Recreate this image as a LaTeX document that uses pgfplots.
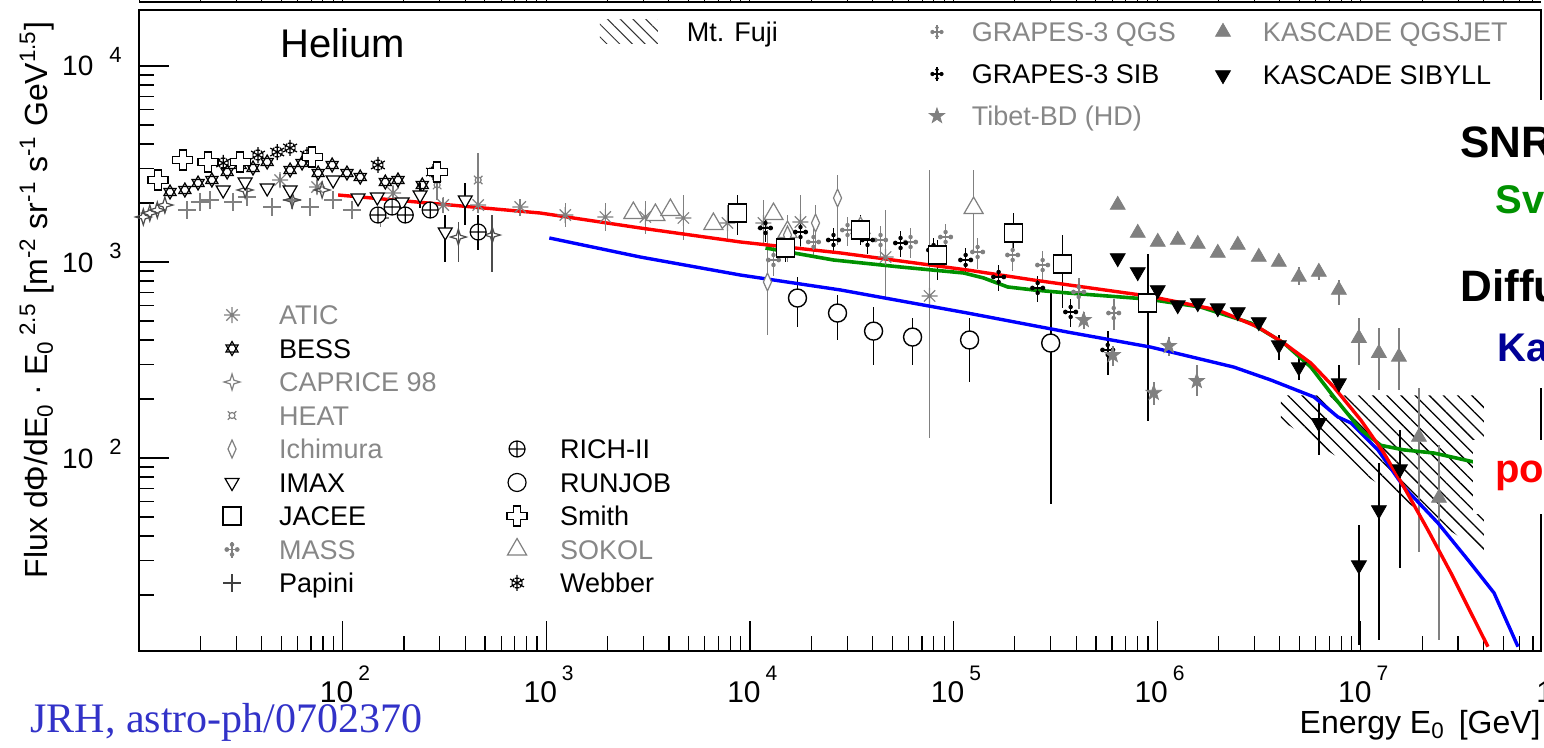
\documentclass[border=0pt]{standalone}
\usepackage{fontspec}
\setmainfont{Liberation Sans}
\newfontfamily\serifjrh{Liberation Serif}
\usepackage{pgfplots}
\pgfplotsset{compat=1.18}
\usetikzlibrary{patterns.meta}

\definecolor{dgray}{RGB}{128,128,128}
\definecolor{tgray}{RGB}{135,135,135}
\definecolor{cgreen}{RGB}{0,145,0}
\definecolor{jrhblue}{RGB}{50,50,200}
\definecolor{kablue}{RGB}{0,0,150}

% ---------- custom marks ----------
\pgfdeclareplotmark{david}{%
 \pgfpathmoveto{\pgfpointpolar{90}{\pgfplotmarksize}}%
 \pgfpathlineto{\pgfpointpolar{210}{\pgfplotmarksize}}%
 \pgfpathlineto{\pgfpointpolar{330}{\pgfplotmarksize}}%
 \pgfpathclose
 \pgfpathmoveto{\pgfpointpolar{270}{\pgfplotmarksize}}%
 \pgfpathlineto{\pgfpointpolar{30}{\pgfplotmarksize}}%
 \pgfpathlineto{\pgfpointpolar{150}{\pgfplotmarksize}}%
 \pgfpathclose
 \pgfusepathqstroke}
\pgfdeclareplotmark{ocross}{%
 \pgfpathmoveto{\pgfqpoint{0.35\pgfplotmarksize}{\pgfplotmarksize}}%
 \pgfpathlineto{\pgfqpoint{0.35\pgfplotmarksize}{0.35\pgfplotmarksize}}%
 \pgfpathlineto{\pgfqpoint{\pgfplotmarksize}{0.35\pgfplotmarksize}}%
 \pgfpathlineto{\pgfqpoint{\pgfplotmarksize}{-0.35\pgfplotmarksize}}%
 \pgfpathlineto{\pgfqpoint{0.35\pgfplotmarksize}{-0.35\pgfplotmarksize}}%
 \pgfpathlineto{\pgfqpoint{0.35\pgfplotmarksize}{-\pgfplotmarksize}}%
 \pgfpathlineto{\pgfqpoint{-0.35\pgfplotmarksize}{-\pgfplotmarksize}}%
 \pgfpathlineto{\pgfqpoint{-0.35\pgfplotmarksize}{-0.35\pgfplotmarksize}}%
 \pgfpathlineto{\pgfqpoint{-\pgfplotmarksize}{-0.35\pgfplotmarksize}}%
 \pgfpathlineto{\pgfqpoint{-\pgfplotmarksize}{0.35\pgfplotmarksize}}%
 \pgfpathlineto{\pgfqpoint{-0.35\pgfplotmarksize}{0.35\pgfplotmarksize}}%
 \pgfpathlineto{\pgfqpoint{-0.35\pgfplotmarksize}{\pgfplotmarksize}}%
 \pgfpathclose
 \pgfusepathqfillstroke}
\def\sbar#1#2#3{%
 \pgfpathmoveto{\pgfpointadd{\pgfpointpolar{#1}{0.6\pgfplotmarksize}}{\pgfpointpolar{#2}{0.28\pgfplotmarksize}}}%
 \pgfpathlineto{\pgfpointadd{\pgfpointpolar{#1}{0.6\pgfplotmarksize}}{\pgfpointpolar{#3}{0.28\pgfplotmarksize}}}}
\pgfdeclareplotmark{snow}{%
 \pgfpathmoveto{\pgfpointpolar{90}{\pgfplotmarksize}}\pgfpathlineto{\pgfpointpolar{270}{\pgfplotmarksize}}%
 \pgfpathmoveto{\pgfpointpolar{30}{\pgfplotmarksize}}\pgfpathlineto{\pgfpointpolar{210}{\pgfplotmarksize}}%
 \pgfpathmoveto{\pgfpointpolar{150}{\pgfplotmarksize}}\pgfpathlineto{\pgfpointpolar{330}{\pgfplotmarksize}}%
 \sbar{90}{180}{0}\sbar{150}{240}{60}\sbar{210}{300}{120}%
 \sbar{270}{0}{180}\sbar{330}{60}{240}\sbar{30}{120}{-60}%
 \pgfusepathqstroke}
\pgfdeclareplotmark{ast8}{%
 \pgfpathmoveto{\pgfqpoint{-\pgfplotmarksize}{0pt}}\pgfpathlineto{\pgfqpoint{\pgfplotmarksize}{0pt}}%
 \pgfpathmoveto{\pgfqpoint{0pt}{-\pgfplotmarksize}}\pgfpathlineto{\pgfqpoint{0pt}{\pgfplotmarksize}}%
 \pgfpathmoveto{\pgfpointpolar{45}{\pgfplotmarksize}}\pgfpathlineto{\pgfpointpolar{225}{\pgfplotmarksize}}%
 \pgfpathmoveto{\pgfpointpolar{135}{\pgfplotmarksize}}\pgfpathlineto{\pgfpointpolar{315}{\pgfplotmarksize}}%
 \pgfusepathqstroke}
\pgfdeclareplotmark{fourstar}{%
 \pgfpathmoveto{\pgfpointpolar{90}{\pgfplotmarksize}}%
 \pgfpathlineto{\pgfpointpolar{45}{0.33\pgfplotmarksize}}%
 \pgfpathlineto{\pgfpointpolar{0}{\pgfplotmarksize}}%
 \pgfpathlineto{\pgfpointpolar{-45}{0.33\pgfplotmarksize}}%
 \pgfpathlineto{\pgfpointpolar{-90}{\pgfplotmarksize}}%
 \pgfpathlineto{\pgfpointpolar{-135}{0.33\pgfplotmarksize}}%
 \pgfpathlineto{\pgfpointpolar{180}{\pgfplotmarksize}}%
 \pgfpathlineto{\pgfpointpolar{135}{0.33\pgfplotmarksize}}%
 \pgfpathclose
 \pgfusepathqstroke}
\pgfdeclareplotmark{heat}{%
 \pgfpathcircle{\pgfpointorigin}{0.5\pgfplotmarksize}%
 \pgfpathmoveto{\pgfpointpolar{45}{0.5\pgfplotmarksize}}\pgfpathlineto{\pgfpointpolar{45}{\pgfplotmarksize}}%
 \pgfpathmoveto{\pgfpointpolar{135}{0.5\pgfplotmarksize}}\pgfpathlineto{\pgfpointpolar{135}{\pgfplotmarksize}}%
 \pgfpathmoveto{\pgfpointpolar{225}{0.5\pgfplotmarksize}}\pgfpathlineto{\pgfpointpolar{225}{\pgfplotmarksize}}%
 \pgfpathmoveto{\pgfpointpolar{315}{0.5\pgfplotmarksize}}\pgfpathlineto{\pgfpointpolar{315}{\pgfplotmarksize}}%
 \pgfusepathqstroke}
\pgfdeclareplotmark{grapes}{%
 \pgfpathmoveto{\pgfqpoint{-0.8\pgfplotmarksize}{0pt}}\pgfpathlineto{\pgfqpoint{0.8\pgfplotmarksize}{0pt}}%
 \pgfpathmoveto{\pgfqpoint{0pt}{-\pgfplotmarksize}}\pgfpathlineto{\pgfqpoint{0pt}{\pgfplotmarksize}}%
 \pgfusepathqstroke
 \pgfpathcircle{\pgfqpoint{0.65\pgfplotmarksize}{0pt}}{0.3\pgfplotmarksize}%
 \pgfpathcircle{\pgfqpoint{-0.65\pgfplotmarksize}{0pt}}{0.3\pgfplotmarksize}%
 \pgfpathcircle{\pgfqpoint{0pt}{0.62\pgfplotmarksize}}{0.28\pgfplotmarksize}%
 \pgfpathcircle{\pgfqpoint{0pt}{-0.62\pgfplotmarksize}}{0.28\pgfplotmarksize}%
 \pgfusepathqfill}
\pgfdeclareplotmark{fstar}{%
 \pgfpathmoveto{\pgfpointpolar{90}{\pgfplotmarksize}}%
 \pgfpathlineto{\pgfpointpolar{126}{0.4\pgfplotmarksize}}%
 \pgfpathlineto{\pgfpointpolar{162}{\pgfplotmarksize}}%
 \pgfpathlineto{\pgfpointpolar{198}{0.4\pgfplotmarksize}}%
 \pgfpathlineto{\pgfpointpolar{234}{\pgfplotmarksize}}%
 \pgfpathlineto{\pgfpointpolar{270}{0.4\pgfplotmarksize}}%
 \pgfpathlineto{\pgfpointpolar{306}{\pgfplotmarksize}}%
 \pgfpathlineto{\pgfpointpolar{342}{0.4\pgfplotmarksize}}%
 \pgfpathlineto{\pgfpointpolar{18}{\pgfplotmarksize}}%
 \pgfpathlineto{\pgfpointpolar{54}{0.4\pgfplotmarksize}}%
 \pgfpathclose
 \pgfusepathqfillstroke}

\newcommand{\xl}[1]{\fontsize{15}{15}\selectfont 10\rlap{\hspace{2.5pt}\raisebox{11pt}{\fontsize{10.5}{10.5}\selectfont #1}}}
\newcommand{\yl}[1]{\fontsize{14}{14}\selectfont 10\hspace{8pt}\raisebox{7pt}{\fontsize{11}{11}\selectfont #1}}

\pgfplotsset{
 frame/.style={at={(69.5pt,-325.5pt)}, anchor=south west, scale only axis,
   width=701pt, height=320.5pt},
 eb/.style={error bars/y dir=both, error bars/y explicit, error bars/error mark=none,
   error bars/error bar style={line width=0.8pt, solid}},
 legaxis/.style={frame, xmin=0, xmax=1, ymin=0, ymax=1, hide axis,
   legend cell align=left,
   legend image code/.code={\path[draw=none, fill=none] (-6pt,-7pt) rectangle (6pt,7pt); \draw[##1] plot coordinates {(0pt,0pt)};},
   legend style={draw=none, fill=none, inner sep=0pt, outer sep=0pt, anchor=north west,
     font=\fontsize{13.5}{14}\selectfont,
     nodes={inner sep=0pt, text height=11.8pt, text depth=2.2pt},
     column sep=17.5pt, row sep=2.75pt}},
}

\begin{document}
\begin{tikzpicture}
\begin{scope}
\clip (0pt,0pt) rectangle (772pt,-374pt);

% thin axis line at the very top (bottom of the plot above)
\begin{axis}[at={(69.5pt,-1pt)}, anchor=south west, scale only axis, width=701pt, height=20pt,
  xmode=log, xmin=10, xmax=7.665e7, ymin=0, ymax=1, hide y axis, axis x line*=bottom,
  axis line style={-, line width=0.6pt}, tick align=inside, major tick length=15pt, minor tick length=7.5pt,
  every tick/.style={black, line width=0.5pt},
  xtick={10,100,1000,10000,100000,1000000,10000000}, xticklabels={},
  minor xtick={20,30,40,50,60,70,80,90,200,300,400,500,600,700,800,900,2000,3000,4000,5000,6000,7000,8000,9000,2e4,3e4,4e4,5e4,6e4,7e4,8e4,9e4,2e5,3e5,4e5,5e5,6e5,7e5,8e5,9e5,2e6,3e6,4e6,5e6,6e6,7e6,8e6,9e6,2e7,3e7,4e7,5e7,6e7,7e7}]
\end{axis}

\begin{axis}[frame,
  xmode=log, ymode=log,
  xmin=10, xmax=7.665e7, ymin=10.36, ymax=19310,
  axis line style={line width=1.1pt},
  tick pos=left, tick align=inside,
  major tick length=15pt, minor tick length=7.5pt,
  every tick/.style={black, line width=0.6pt},
  xtick={10,100,1000,10000,100000,1000000,10000000},
  xticklabels={,\xl{2},\xl{3},\xl{4},\xl{5},\xl{6},\xl{7}},
  minor xtick={20,30,40,50,60,70,80,90,200,300,400,500,600,700,800,900,2000,3000,4000,5000,6000,7000,8000,9000,2e4,3e4,4e4,5e4,6e4,7e4,8e4,9e4,2e5,3e5,4e5,5e5,6e5,7e5,8e5,9e5,2e6,3e6,4e6,5e6,6e6,7e6,8e6,9e6,2e7,3e7,4e7,5e7,6e7,7e7},
  ytick={100,1000,10000}, yticklabels={\yl{2},\yl{3},\yl{4}},
  minor ytick={20,30,40,50,60,70,80,90,200,300,400,500,600,700,800,900,2000,3000,4000,5000,6000,7000,8000,9000},
  xticklabel style={anchor=base, inner sep=0pt, yshift=-26pt, xshift=-3pt},
  yticklabel style={anchor=base east, inner sep=0pt, xshift=-8.5pt, yshift=-5pt},
  xlabel={Energy E\textsubscript{0}\hspace{7pt}[GeV]},
  xlabel style={at={(axis description cs:1,-0.128)}, anchor=base east, inner sep=0pt, font=\fontsize{16}{16}\selectfont},
  ylabel={Flux dΦ/dE\textsubscript{0} · E\textsubscript{0}\,\textsuperscript{2.5} [m\textsuperscript{-2} sr\textsuperscript{-1} s\textsuperscript{-1} GeV\textsuperscript{1.5}]},
  ylabel style={at={(axis description cs:-0.0728,0.5476)}, anchor=center, inner sep=0pt, font=\fontsize{16}{16}\selectfont},
]
% Mt. Fuji band
\addplot[draw=none, pattern={Lines[angle=-45,distance=5pt,line width=0.65pt]}, pattern color=black]
 coordinates {(4.05e6,209) (4.02e7,209) (4.02e7,32.8) (4.05e6,156)} -- cycle;

% ATIC
\addplot[only marks, mark=ast8, dgray, mark size=4pt, line width=0.6pt, eb] coordinates {
 (49.3,2620) +- (0,200) (74.9,2413) +- (0,200) (177,2249) +- (0,180) (312,1953) +- (0,170)
 (463,1953) +- (0,180) (745,1908) +- (0,190)
 (1240,1737) += (0,260) -= (0,230) (1950,1697) += (0,300) -= (0,260)
 (3065,1697) += (0,340) -= (0,300) (4712,1677) += (0,520) -= (0,382)
 (7752,1581) += (0,372) -= (0,316) (11650,1581) += (0,491) -= (0,360)
 (17710,1600) += (0,597) -= (0,449) (46340,1060) += (0,782) -= (0,420)
 (76230,671) += (0,2276) -= (0,545)};
% Papini
\addplot[only marks, mark=+, dgray, mark size=4.5pt, line width=0.7pt] coordinates {
 (17.2,1842) (19.9,2024) (22.3,2072) (29.0,2024) (33.9,2146) (45.0,1908) (56.5,2072)
 (69.2,1908) (89.8,2072) (111,1842) (153,1677)};
% CAPRICE 98
\addplot[only marks, mark=fourstar, black!70, mark size=4pt, line width=0.6pt, eb] coordinates {
 (10.5,1697) (11.3,1778) (12.3,1842) (13.4,1953) (33.2,2330) (56.5,2072) (79.3,2330)
 (370,1341) += (0,259) -= (0,341) (543,1373) += (0,364) -= (0,484)};
% HEAT
\addplot[only marks, mark=heat, dgray, mark size=3pt, line width=0.6pt, eb] coordinates {
 (291,2471) += (0,655) -= (0,399) (463,2620) += (0,977) -= (0,712)};
% BESS
\addplot[only marks, mark=david, black, mark size=3.5pt, line width=0.6pt] coordinates {
 (14.2,2276) (16.8,2330) (19.5,2529) (22.8,2620) (27.1,2878) (31.4,3126) (36.3,3017)
 (42.6,3237) (55.2,2947) (63.2,3200) (75.8,2844) (88.8,3126) (105,2844) (122,2714)
 (162,2559) (187,2620) (246,2471)};
% Webber
\addplot[only marks, mark=snow, black, mark size=4pt, line width=0.6pt] coordinates {
 (25.9,3200) (38.4,3514) (47.7,3640) (55.2,3817) (66.9,3514) (149,3126) (278,2878)};
% Smith
\addplot[only marks, mark=ocross, black, mark size=5pt, line width=0.6pt, mark options={fill=white}] coordinates {
 (12.4,2620) (16.4,3314) (21.8,3237) (31.4,3237) (70.8,3434) (291,2878)};
% IMAX
\addplot[only marks, mark=triangle*, black, mark size=4pt, line width=0.6pt, mark options={fill=white, rotate=180}, eb] coordinates {
 (25.9,2330) (33.2,2559) (42.6,2385) (55.2,2330) (89.8,2620) (119,2121) (148,2146) (196,2024)
 (240,2197) += (0,332) -= (0,311) (319,1422) += (0,315) -= (0,422) (400,2072) += (0,457) -= (0,527)};
% RICH-II
\addplot[only marks, mark=oplus*, black, mark size=4pt, line width=0.6pt, mark options={fill=white}, eb] coordinates {
 (149,1737) +- (0,150) (175,1908) +- (0,160) (203,1737) +- (0,150) (269,1842) +- (0,160)
 (463,1422) += (0,315) -= (0,271)};
% SOKOL
\addplot[only marks, mark=triangle*, dgray, mark size=5.5pt, line width=0.6pt, mark options={fill=white}, eb] coordinates {
 (2676,1778) (3433,1737) (4068,1842) (6616,1563) (13050,1757) (15290,1422) +- (0,150) (34910,1491)
 (125400,1886) += (0,1061) -= (0,774)};
% Ichimura
\addplot[only marks, mark=diamond*, dgray, mark size=4.5pt, line width=0.6pt, mark options={fill=white, xscale=0.6}, eb] coordinates {
 (12190,791) += (0,665) -= (0,367) (15290,1373) += (0,364) -= (0,373)
 (20990,1581) += (0,372) -= (0,430) (26920,2121) += (0,658) -= (0,900)};
% GRAPES-3 QGS
\addplot[only marks, mark=grapes, dgray, mark size=4pt, line width=0.6pt, eb] coordinates {
 (13050,1024) +- (0,180) (20510,1265) +- (0,220) (30140,1456) +- (0,250) (43780,1295) +- (0,230)
 (61470,1265) +- (0,220) (91330,1341) +- (0,230) (131200,1125) +- (0,200) (195000,1086) +- (0,190)
 (273700,965) +- (0,170) (411500,703) +- (0,130) (611300,549) +- (0,100)};
% GRAPES-3 SIB
\addplot[only marks, mark=grapes, black, mark size=4pt, line width=0.6pt, eb] coordinates {
 (11920,1491) +- (0,220) (17710,1422) +- (0,210) (25720,1295) +- (0,190) (37790,1295) +- (0,190)
 (54900,1250) +- (0,185) (79760,1151) +- (0,170) (114600,1024) +- (0,150) (166400,839) +- (0,125)
 (258700,737) +- (0,115) (375700,556) +- (0,90) (571300,356) += (0,88) -= (0,91)};
% JACEE
\addplot[only marks, mark=square*, black, mark size=4.5pt, line width=0.7pt, mark options={fill=white}, eb] coordinates {
 (8681,1778) += (0,419) -= (0,405) (14940,1179) += (0,194) -= (0,179)
 (34910,1456) += (0,281) -= (0,235) (83430,1086) += (0,209) -= (0,277)
 (197100,1406) += (0,372) -= (0,255) (343300,977) += (0,396) -= (0,395)
 (898200,618) += (0,483) -= (0,464)};
% RUNJOB
\addplot[only marks, mark=*, black, mark size=4.5pt, line width=0.7pt, mark options={fill=white}, eb] coordinates {
 (17120,655) += (0,184) -= (0,189) (26920,549) += (0,130) -= (0,149)
 (40460,444) += (0,145) -= (0,146) (62880,414) += (0,104) -= (0,116)
 (119800,400) += (0,118) -= (0,156) (299800,386) += (0,309) -= (0,328)};
% Tibet-BD (HD)
\addplot[only marks, mark=fstar, dgray, mark size=4pt, line width=0.4pt, eb] coordinates {
 (435400,506) +- (0,50) (604400,335) +- (0,40) (961200,215) += (0,30) -= (0,28)
 (1139000,373) +- (0,40) (1564000,247) += (0,50) -= (0,40)};
% KASCADE QGSJET
\addplot[only marks, mark=triangle*, dgray, mark size=4.3pt, line width=0.4pt, eb] coordinates {
 (639700,1953) (802300,1406) (1006000,1265) (1261000,1295) (1581000,1235) (1983000,1112)
 (2486000,1221) (3153000,1060) (3955000,1000)
 (4958000,839) += (0,100) -= (0,80) (6217000,889) += (0,90) -= (0,80)
 (7797000,720) += (0,89) -= (0,117) (9777000,409) += (0,109) -= (0,111)
 (12260000,343) += (0,117) -= (0,121) (15370000,328) += (0,132) -= (0,106)
 (19280000,128) += (0,100) -= (0,95) (24170000,62.5) += (0,53.5) -= (0,50.7)};
% KASCADE SIBYLL
\addplot[only marks, mark=triangle*, black, mark size=4.3pt, line width=0.4pt, mark options={rotate=180}, eb] coordinates {
 (639700,1048) (802300,889) (1006000,720) (1261000,603) (1581000,618) (1983000,582)
 (2486000,556) (3153000,494)
 (3955000,377) += (0,47) -= (0,61) (4958000,291) += (0,44) -= (0,41)
 (6217000,151) += (0,47) -= (0,47) (7797000,241) += (0,57) -= (0,26)
 (9777000,28.4) += (0,17.1) -= (0,17.3) (12260000,54.3) += (0,40) -= (0,42.5)
 (15550000,87.8) += (0,51) -= (0,60.3)};

% model curves
\addplot[blue, line width=1.7pt, mark=none] coordinates {
 (1035,1326) (2897,1060) (8982,858) (27850,720) (117200,549) (363300,439) (929200,368)
 (2376000,291) (3612000,250) (5875000,205) (7709000,162) (8932000,151) (12120000,110)
 (16270000,71.1) (23900000,46.6) (33560000,30.2) (45050000,20.5) (59080000,10.9)};
\addplot[cgreen, line width=1.8pt, mark=none] coordinates {
 (11920,1179) (25720,1024) (54900,943) (112000,879) (140400,829) (184200,746) (247200,720)
 (363300,695) (898200,647) (1636000,589) (2881000,488) (4184000,386) (5681000,291)
 (7368000,205) (10000000,139) (12540000,116) (16270000,110) (22850000,106) (35920000,95.4)
 (48750000,93)};
\addplot[red, line width=1.7pt, mark=none] coordinates {
 (95.0,2197) (934,1778) (2897,1491) (8982,1265) (27850,1112) (117200,910) (247200,809)
 (898200,671) (1983000,569) (3118000,466) (4184000,386) (5681000,305) (7368000,230)
 (10000000,156) (12970000,106) (16270000,71.1) (21340000,42.9) (27690000,25.9)
 (34720000,16.2) (42070000,10.9)};

\node[anchor=west, inner sep=0pt, font=\fontsize{20}{20}\selectfont] at (axis description cs:0.1006,0.9485) {Helium};
\end{axis}

% ---------- legends ----------
\begin{axis}[legaxis, legend style={at={(axis description cs:0.0578,0.5460)}}]
\addlegendimage{mark=ast8, dgray, mark size=4pt, line width=0.6pt}\addlegendentry[text=tgray]{ATIC}
\addlegendimage{mark=david, black, mark size=3.5pt, line width=0.6pt}\addlegendentry{BESS}
\addlegendimage{mark=fourstar, dgray, mark size=4pt, line width=0.6pt}\addlegendentry[text=tgray]{CAPRICE 98}
\addlegendimage{mark=heat, dgray, mark size=3pt, line width=0.6pt}\addlegendentry[text=tgray]{HEAT}
\addlegendimage{mark=diamond*, dgray, mark size=4.5pt, line width=0.6pt, mark options={fill=white, xscale=0.6}}\addlegendentry[text=tgray]{Ichimura}
\addlegendimage{mark=triangle*, black, mark size=4pt, line width=0.6pt, mark options={fill=white, rotate=180}}\addlegendentry{IMAX}
\addlegendimage{mark=square*, black, mark size=4.5pt, line width=0.6pt, mark options={fill=white}}\addlegendentry{JACEE}
\addlegendimage{mark=grapes, dgray, mark size=4pt, line width=0.6pt}\addlegendentry[text=tgray]{MASS}
\addlegendimage{mark=+, black!75, mark size=4.5pt, line width=0.6pt}\addlegendentry{Papini}
\end{axis}
\begin{axis}[legaxis, legend style={at={(axis description cs:0.2611,0.3370)}, column sep=15.5pt}]
\addlegendimage{mark=oplus*, black, mark size=4pt, line width=0.6pt, mark options={fill=white}}\addlegendentry{RICH-II}
\addlegendimage{mark=*, black, mark size=4.5pt, line width=0.6pt, mark options={fill=white}}\addlegendentry{RUNJOB}
\addlegendimage{mark=ocross, black, mark size=5pt, line width=0.6pt, mark options={fill=white}}\addlegendentry{Smith}
\addlegendimage{mark=triangle*, dgray, mark size=5.5pt, line width=0.6pt, mark options={fill=white}}\addlegendentry[text=tgray]{SOKOL}
\addlegendimage{mark=snow, black, mark size=4pt, line width=0.6pt}\addlegendentry{Webber}
\end{axis}
\begin{axis}[legaxis,
  legend image code/.code={\path[#1, draw=none] (0pt,-6pt) rectangle (29pt,6pt);},
  legend style={at={(axis description cs:0.3288,0.9875)}, column sep=14.5pt}]
\addlegendimage{pattern={Lines[angle=-45,distance=4.5pt,line width=0.5pt]}, pattern color=black!80}\addlegendentry{Mt. Fuji}
\end{axis}
\begin{axis}[legaxis, legend style={at={(axis description cs:0.5606,0.9875)}, column sep=11.5pt, row sep=7pt}]
\addlegendimage{mark=grapes, dgray, mark size=3.5pt, line width=0.6pt}\addlegendentry[text=tgray]{GRAPES-3 QGS}
\addlegendimage{mark=grapes, black, mark size=3.5pt, line width=0.6pt}\addlegendentry{GRAPES-3 SIB}
\addlegendimage{mark=fstar, dgray, mark size=4pt, line width=0.4pt}\addlegendentry[text=tgray]{Tibet-BD (HD)}
\end{axis}
\begin{axis}[legaxis, legend style={at={(axis description cs:0.7646,0.9875)}, column sep=14pt, row sep=7.5pt}]
\addlegendimage{mark=triangle*, dgray, mark size=4.3pt, line width=0.4pt}\addlegendentry[text=tgray]{KASCADE QGSJET}
\addlegendimage{mark=triangle*, black, mark size=4.3pt, line width=0.4pt, mark options={rotate=180}}\addlegendentry{KASCADE SIBYLL}
\end{axis}

% ---------- slide overlays ----------
\begin{scope}[x=0.5pt, y=-0.5pt]
\fill[white] (1455,100) rectangle (1560,388);
\fill[white] (1473,440) rectangle (1560,514);
\node[anchor=west, inner sep=0pt, font=\bfseries\fontsize{22}{22}\selectfont] at (1460,142) {SNR};
\node[anchor=west, inner sep=0pt, text=cgreen, font=\bfseries\fontsize{20}{20}\selectfont] at (1495,200) {Sv};
\node[anchor=west, inner sep=0pt, font=\bfseries\fontsize{22}{22}\selectfont] at (1460,286) {Diffu};
\node[anchor=west, inner sep=0pt, text=kablue, font=\bfseries\fontsize{20}{20}\selectfont] at (1497,348) {Ka};
\node[anchor=west, inner sep=0pt, text=red, font=\bfseries\fontsize{20}{20}\selectfont] at (1495,476) {po};
\node[anchor=base, inner sep=0pt] at (1553,703) {\fontsize{15}{15}\selectfont 10};
\node[anchor=base west, inner sep=0pt, text=jrhblue, font=\serifjrh\fontsize{21}{21}\selectfont] at (30,733) {JRH, astro-ph/0702370};
\end{scope}
\end{scope}
\pgfresetboundingbox
\path[use as bounding box] (0pt,0pt) rectangle (772pt,-374pt);
\end{tikzpicture}
\end{document}
